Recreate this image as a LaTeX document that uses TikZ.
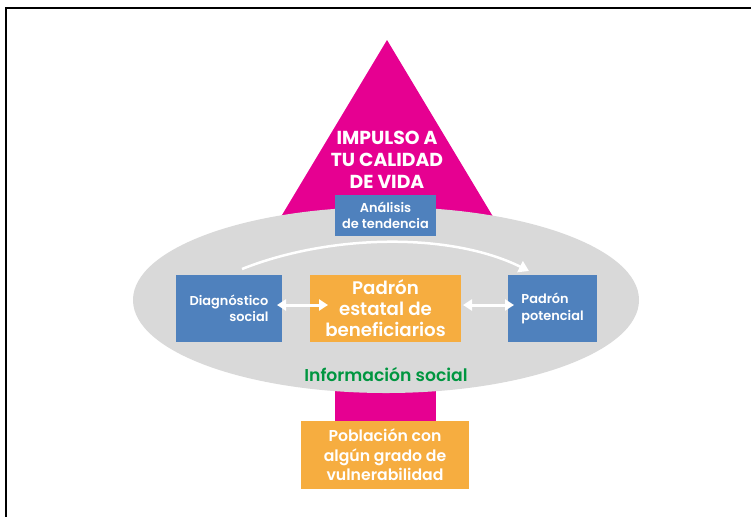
\documentclass[tikz,border=0pt]{standalone}
\usepackage{fontspec}
\setmainfont{Poppins}
\newfontfamily\medf{Poppins SemiBold}
\usetikzlibrary{arrows.meta}
\definecolor{pinkc}{RGB}{230,0,145}
\definecolor{bluec}{RGB}{79,129,189}
\definecolor{orangec}{RGB}{246,173,64}
\definecolor{grayc}{RGB}{217,217,217}
\definecolor{greenc}{RGB}{0,150,64}
\tikzset{
  boxb/.style={fill=bluec, text=white, inner sep=0pt, font=\medf\fontsize{12.9}{16.5}\selectfont},
  boxo/.style={fill=orangec, text=white, inner sep=0pt, align=center},
  warrow/.style={draw=white, line width=3pt, {Triangle[width=11pt,length=9pt]}-{Triangle[width=11pt,length=9pt]}},
}
\begin{document}
\begin{tikzpicture}[x=1pt,y=-1pt]
\useasboundingbox (0,0) rectangle (751,517);
\fill[white] (0,0) rectangle (751,517);
% frame
\draw[line width=1.3pt] (751,8) -- (6,8) -- (6,517);
% triangle
\fill[pinkc] (387,40) -- (243,280) -- (531,280) -- cycle;
% stem
\fill[pinkc] (335,370) rectangle (436,421);
% ellipse
\fill[grayc] (386,300) ellipse [x radius=253, y radius=93];
% title
\node[text=white, align=center, font=\bfseries\fontsize{18.8}{22}\selectfont] (title) at (387,160) {IMPULSO A\\TU CALIDAD\\DE VIDA};
% boxes
\node[boxb, minimum width=101pt, minimum height=41pt, align=center] (ana) at (385.5,215.5) {Análisis\\de tendencia};
\node[boxb, minimum width=106pt, minimum height=67pt, align=right] (diag) at (229,308.5) {Diagnóstico\\social};
\node[boxo, minimum width=151pt, minimum height=67pt, font=\medf\fontsize{18.2}{21}\selectfont] (pad) at (385.5,308.5) {Padrón\\estatal de\\beneficiarios};
\node[boxb, minimum width=89pt, minimum height=67pt, align=left] (pot) at (552.5,308.5) {Padrón\\potencial};
% info social
\node[text=greenc, font=\medf\fontsize{17.2}{18}\selectfont] (info) at (386,375) {Información social};
% bottom box
\node[boxo, minimum width=168pt, minimum height=68pt, font=\medf\fontsize{15.7}{19.5}\selectfont] (pob) at (385,455) {Población con\\algún grado de\\vulnerabilidad};
% arrows
\coordinate (a1) at (277,305);
\coordinate (a2) at (328,305);
\coordinate (b1) at (463,305);
\coordinate (b2) at (514,305);
\draw[warrow] (a1) -- (a2);
\draw[warrow] (b1) -- (b2);
\coordinate (c1) at (242,269);
\coordinate (c2) at (529,271);
\draw[draw=white, line width=2.5pt, -{Triangle[width=12pt,length=10pt]}] (c1) .. controls (330,234) and (450,232) .. (c2);
\end{tikzpicture}
\end{document}
